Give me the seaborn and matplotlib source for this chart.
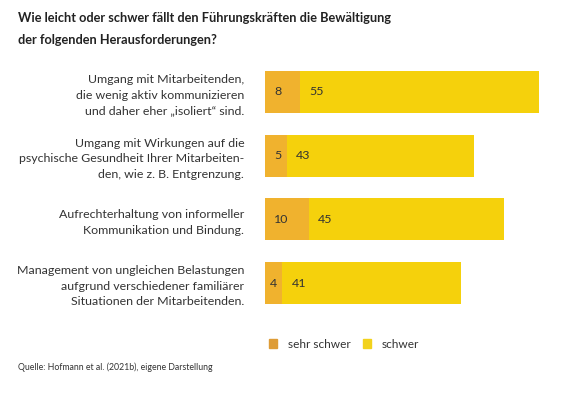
import matplotlib
matplotlib.use('Agg')
import pandas as pd
import matplotlib.pyplot as plt
from matplotlib.patches import Patch
import seaborn as sns

# Data
challenges = [
    'Umgang mit Mitarbeitenden,\ndie wenig aktiv kommunizieren\nund daher eher \u201eisoliert\u201c sind.',
    'Umgang mit Wirkungen auf die\npsychische Gesundheit Ihrer Mitarbeiten-\nden, wie z. B. Entgrenzung.',
    'Aufrechterhaltung von informeller\nKommunikation und Bindung.',
    'Management von ungleichen Belastungen\naufgrund verschiedener familiärer\nSituationen der Mitarbeitenden.',
]
sehr_schwer = [8, 5, 10, 4]
schwer = [55, 43, 45, 41]
series_names = ['sehr schwer', 'schwer']

title = ('Wie leicht oder schwer fällt den Führungskräften die Bewältigung\n'
         'der folgenden Herausforderungen?')
source = 'Quelle: Hofmann et al. (2021b), eigene Darstellung'

c_sehr = '#F0B22E'
c_schwer = '#F5D10C'
c_text = '#333333'

sns.set_theme(style='white')
plt.rcParams['font.family'] = ['Lato', 'DejaVu Sans']

df = pd.DataFrame({'challenge': challenges, 'sehr': sehr_schwer, 'schwer': schwer})
df['total'] = df['sehr'] + df['schwer']

fig = plt.figure(figsize=(5.78, 3.95), dpi=100)
ax = fig.add_axes([265 / 578, 1 - 315 / 395, 278.4 / 578, 255 / 395])

# stacked bars: draw total first, then the first segment on top
sns.barplot(data=df, y='challenge', x='total', color=c_schwer, width=0.66,
            saturation=1, ax=ax, orient='h', linewidth=0)
sns.barplot(data=df, y='challenge', x='sehr', color=c_sehr, width=0.66,
            saturation=1, ax=ax, orient='h', linewidth=0)

ax.set_xlim(0, 64)
ax.set_ylim(3.5, -0.5)
ax.set_xlabel('')
ax.set_ylabel('')
ax.set_xticks([])
sns.despine(ax=ax, left=True, bottom=True)
ax.tick_params(axis='y', length=0, pad=15)
for lab in ax.get_yticklabels():
    lab.set_fontsize(8.9)
    lab.set_color(c_text)
    lab.set_linespacing(1.5)
    lab.set_horizontalalignment('right')

# value labels
for i, row in df.iterrows():
    pad = 6.5 if row['sehr'] >= 5 else 3.5
    ax.annotate(str(row['sehr']), (0, i), xytext=(pad, 0), textcoords='offset points',
                va='center', ha='left', fontsize=8.9, color=c_text)
    ax.annotate(str(row['schwer']), (row['sehr'], i), xytext=(6.5, 0),
                textcoords='offset points', va='center', ha='left',
                fontsize=8.9, color=c_text)

fig.text(18 / 578, 1 - 12 / 395, title, fontsize=9.2, fontweight='bold',
         color='#222222', va='top', ha='left', linespacing=1.95)

handles = [Patch(color='#DE9C36'), Patch(color='#F2D21C')]
fig.legend(handles, series_names, loc='center left',
           bbox_to_anchor=(258 / 578, 1 - 344 / 395), ncol=2, frameon=False,
           fontsize=8.6, handlelength=0.7, handleheight=0.7, columnspacing=1.0,
           handletextpad=0.9, labelcolor=c_text)

fig.text(18 / 578, 1 - 367 / 395, source, fontsize=6.3, color=c_text,
         va='center', ha='left')

fig.savefig('out.png', dpi=100)
